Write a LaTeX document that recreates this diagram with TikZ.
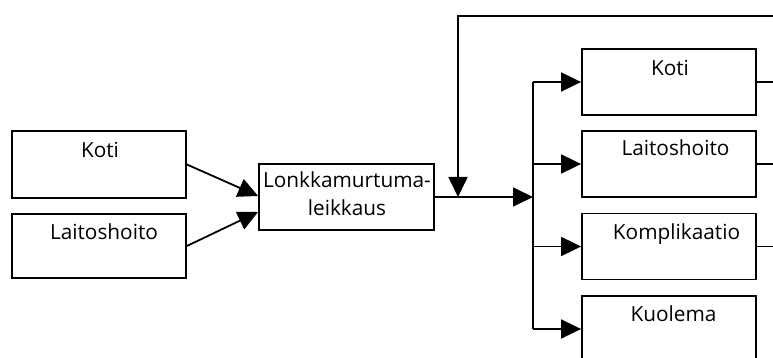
\documentclass[tikz,border=0pt]{standalone}
\usepackage{fontspec}
\setmainfont{Open Sans}
\usetikzlibrary{arrows.meta}
\tikzset{
  box/.style={draw, line width=0.9pt, minimum width=87pt, inner sep=0pt},
  lbl/.style={anchor=base, inner sep=0pt, font=\fontsize{10.4}{12}\selectfont},
  conn/.style={line width=0.9pt},
  arr/.style={conn, -{Triangle[length=10pt,width=9.5pt]}},
}
\begin{document}
\begin{tikzpicture}[x=0.5pt,y=-0.5pt]
\useasboundingbox (0,0) rectangle (773,358);
\clip (0,0) rectangle (773,358);
\fill[white] (0,0) rectangle (773,358);

% left-hand origin boxes
\node[box, minimum height=33.5pt] (lk) at (99,164.5) {};
\node[box, minimum height=32pt]   (ll) at (99,246) {};
\node[lbl] (lkt) at (100,158) {Koti};
\node[lbl] (llt) at (104,240) {Laitoshoito};

% operation box
\node[box, minimum width=87.5pt, minimum height=33pt] (op) at (346.5,197) {};
\node[lbl] (opt1) at (347,188) {Lonkkamurtuma-};
\node[lbl] (opt2) at (347,216) {leikkaus};

% right-hand outcome boxes
\node[box, minimum height=33pt] (rk) at (669,82) {};
\node[box, minimum height=33pt] (rl) at (669,164) {};
\node[box, minimum height=33pt] (rc) at (669,246.5) {};
\node[box, minimum height=33pt] (rd) at (669,329) {};
\node[lbl] (rkt) at (670,76) {Koti};
\node[lbl] (rlt) at (675.5,156) {Laitoshoito};
\node[lbl] (rct) at (676.5,240) {Komplikaatio};
\node[lbl] (rdt) at (673.5,322) {Kuolema};

% junction points
\coordinate (split) at (533,197);
\coordinate (fb) at (458,197);
\coordinate (fbtop) at (458,16);
\coordinate (fbend) at (773,16);
\coordinate (edge) at (773,0);

% inflow into the operation
\draw[arr] (lk.east) -- ([yshift=0.5pt]op.west);
\draw[arr] (ll.east) -- ([yshift=-7.5pt]op.west);

% outflow and branching
\draw[arr] (op.east) -- (split);
\draw[conn] (rk.west -| split) -- (rd.west -| split);
\foreach \b in {rk,rl,rc,rd}
  \draw[arr] (\b.west -| split) -- (\b.west);

% feedback loop back to the operation line
\draw[arr] (fbend) -- (fbtop) -- (fb);
\foreach \b in {rk,rl,rc}
  \draw[conn] (\b.east) -- (\b.east -| edge);
\end{tikzpicture}
\end{document}
